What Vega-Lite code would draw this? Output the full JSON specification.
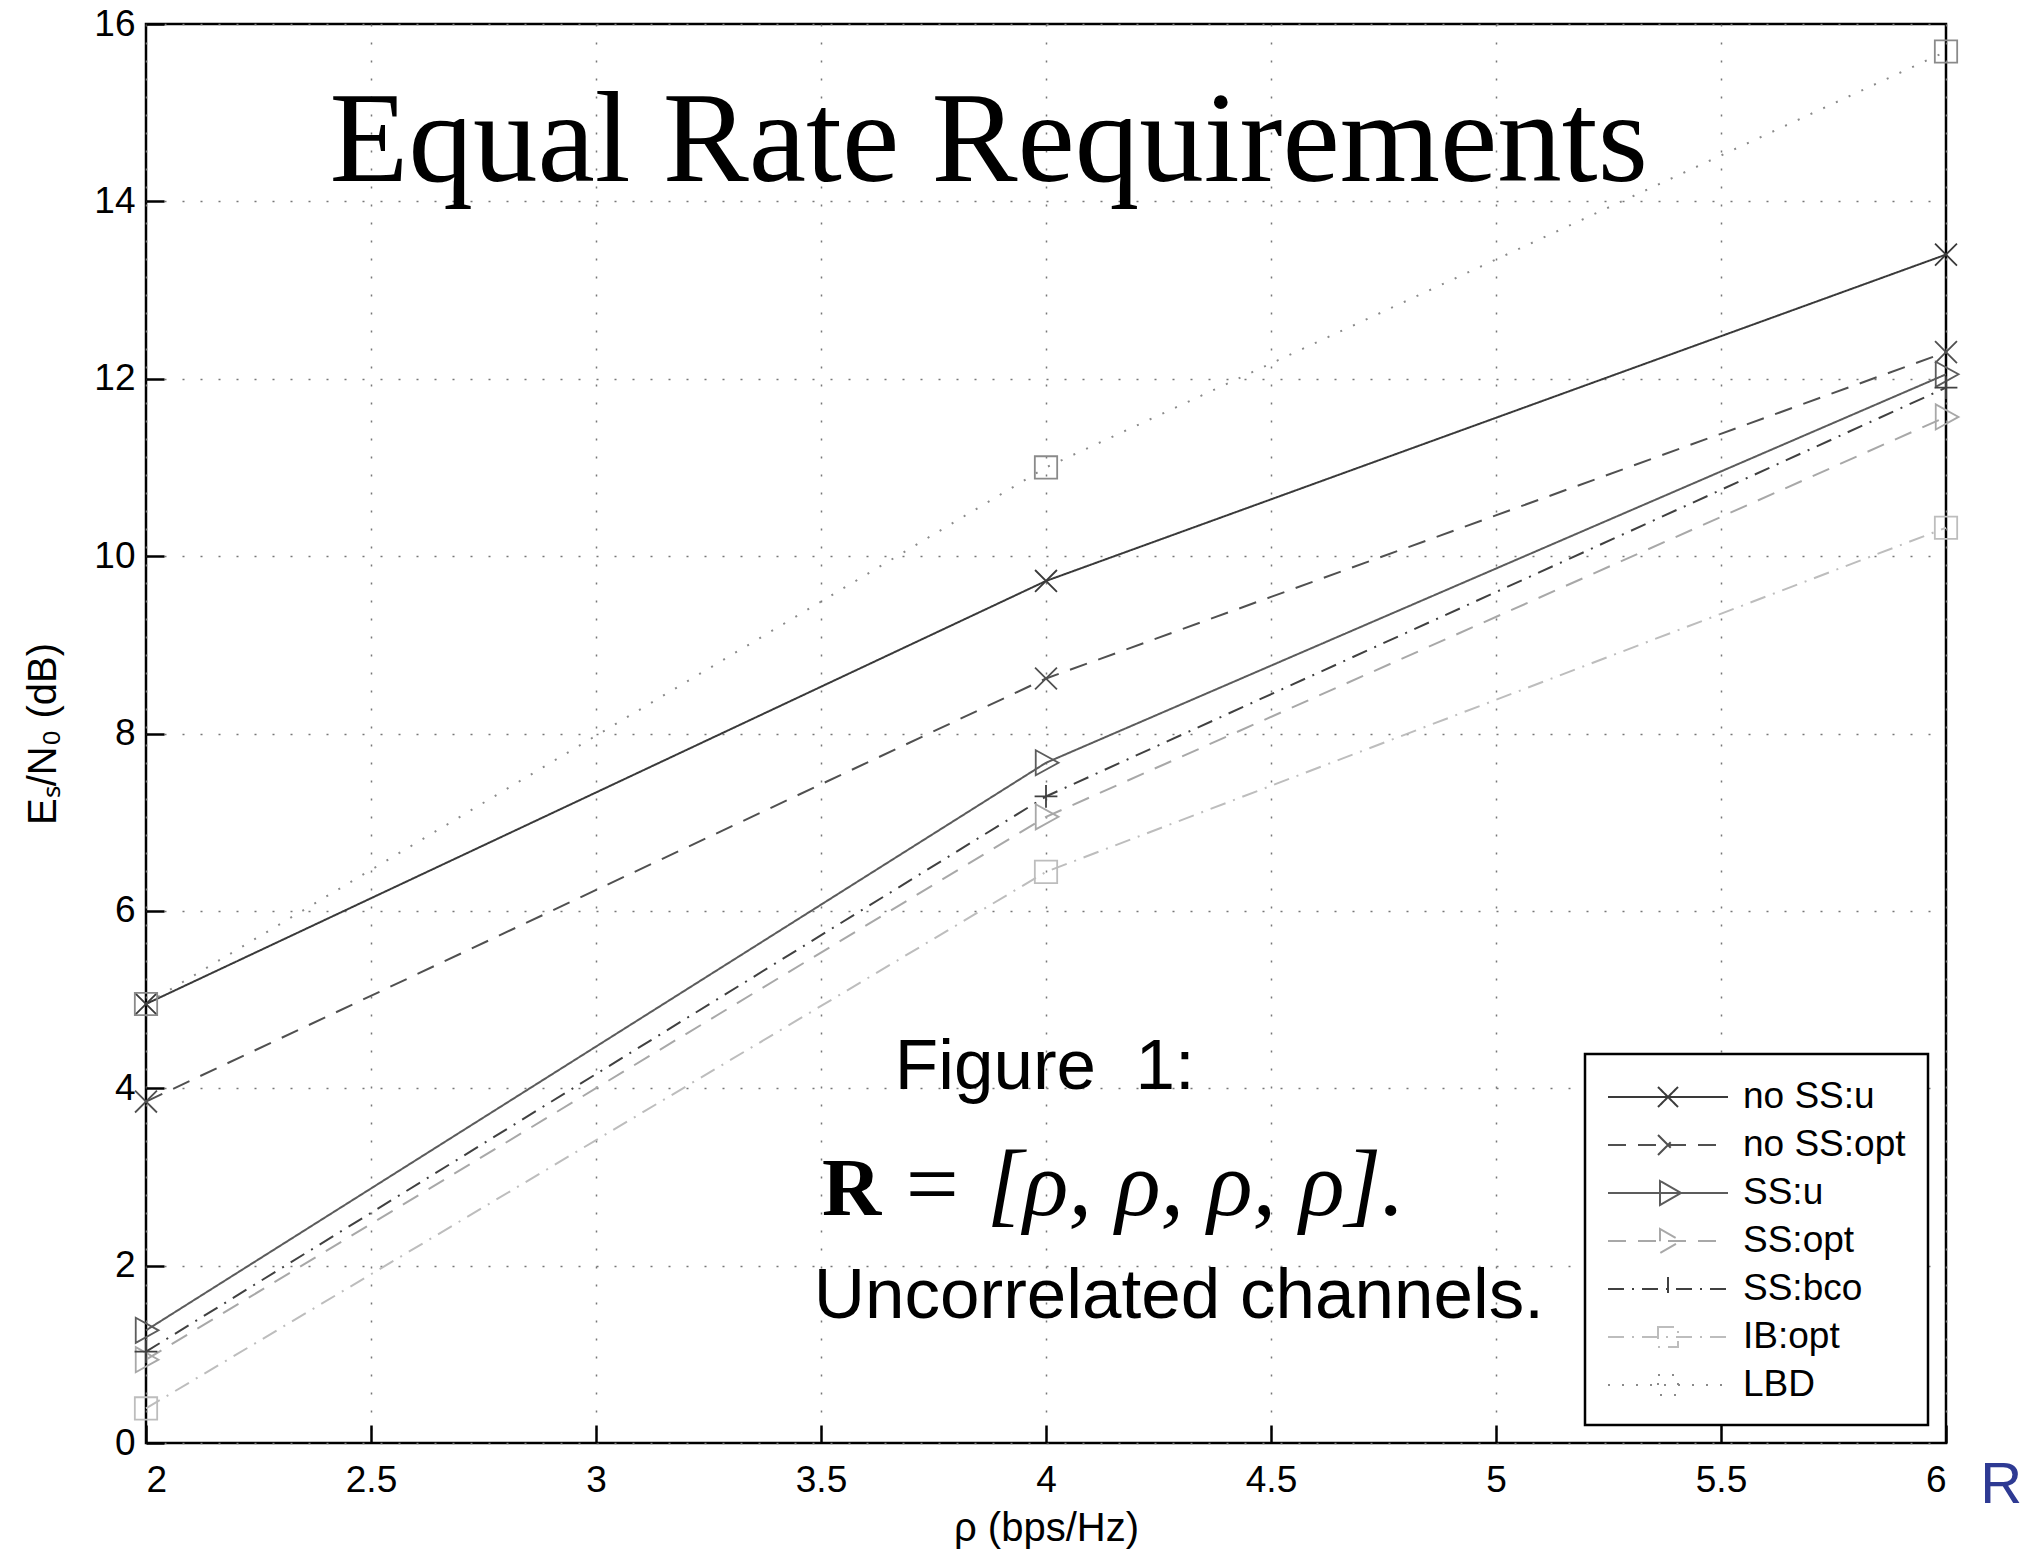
{
  "$schema": "https://vega.github.io/schema/vega-lite/v6.json",
  "width": 1800,
  "height": 1419,
  "autosize": {"type": "none"},
  "padding": {"left": 146, "top": 24, "right": 80, "bottom": 108},
  "background": "white",
  "config": {
    "view": {"stroke": "black", "strokeWidth": 2.5},
    "font": "Liberation Sans",
    "axis": {
      "domain": false,
      "grid": true,
      "gridColor": "#777",
      "gridDash": [2, 16],
      "gridWidth": 1.5,
      "gridOpacity": 1,
      "ticks": true,
      "tickSize": -18,
      "tickWidth": 2.5,
      "tickColor": "black",
      "labelFont": "Liberation Sans",
      "labelFontSize": 37,
      "labelColor": "black",
      "titleFont": "Liberation Sans",
      "titleFontSize": 40,
      "titleFontWeight": "normal",
      "titleColor": "black"
    }
  },
  "datasets": {
    "series": [
      {"scheme": "no SS:u", "rho": 2, "esn0": 4.95},
      {"scheme": "no SS:u", "rho": 4, "esn0": 9.72},
      {"scheme": "no SS:u", "rho": 6, "esn0": 13.4},
      {"scheme": "no SS:opt", "rho": 2, "esn0": 3.85},
      {"scheme": "no SS:opt", "rho": 4, "esn0": 8.62},
      {"scheme": "no SS:opt", "rho": 6, "esn0": 12.3},
      {"scheme": "SS:u", "rho": 2, "esn0": 1.27},
      {"scheme": "SS:u", "rho": 4, "esn0": 7.67},
      {"scheme": "SS:u", "rho": 6, "esn0": 12.05},
      {"scheme": "SS:opt", "rho": 2, "esn0": 0.94},
      {"scheme": "SS:opt", "rho": 4, "esn0": 7.06},
      {"scheme": "SS:opt", "rho": 6, "esn0": 11.57},
      {"scheme": "SS:bco", "rho": 2, "esn0": 1.03},
      {"scheme": "SS:bco", "rho": 4, "esn0": 7.29},
      {"scheme": "SS:bco", "rho": 6, "esn0": 11.9},
      {"scheme": "IB:opt", "rho": 2, "esn0": 0.39},
      {"scheme": "IB:opt", "rho": 4, "esn0": 6.44},
      {"scheme": "IB:opt", "rho": 6, "esn0": 10.32},
      {"scheme": "LBD", "rho": 2, "esn0": 4.95},
      {"scheme": "LBD", "rho": 4, "esn0": 11.0},
      {"scheme": "LBD", "rho": 6, "esn0": 15.69}
    ]
  },
  "layer": [
    {
      "data": {"name": "series"},
      "mark": {"type": "line", "strokeWidth": 2},
      "encoding": {
        "x": {
          "field": "rho", "type": "quantitative",
          "scale": {"domain": [2, 6], "nice": false, "zero": false},
          "axis": {"values": [2, 2.5, 3, 3.5, 4, 4.5, 5, 5.5, 6], "format": "~g", "title": "ρ (bps/Hz)", "labelPadding": 37, "titlePadding": 10}
        },
        "y": {
          "field": "esn0", "type": "quantitative",
          "scale": {"domain": [0, 16], "nice": false},
          "axis": {"values": [0, 2, 4, 6, 8, 10, 12, 14, 16], "format": "~g", "title": "Eₛ/N₀ (dB)", "labelPadding": 29, "titlePadding": 30}
        },
        "color": {
          "field": "scheme", "type": "nominal",
          "scale": {
            "domain": ["no SS:u", "no SS:opt", "SS:u", "SS:opt", "SS:bco", "IB:opt", "LBD"],
            "range": ["#3a3a3a", "#505050", "#5c5c5c", "#a8a8a8", "#404040", "#bdbdbd", "#8a8a8a"]
          },
          "legend": {
            "title": null,
            "orient": "bottom-right",
            "offset": 18,
            "padding": 22,
            "strokeColor": "black",
            "fillColor": "white",
            "labelFont": "Liberation Sans",
            "labelFontSize": 37,
            "labelColor": "black",
            "labelLimit": 500,
            "labelOffset": 94,
            "symbolSize": 1600,
            "symbolStrokeWidth": 2,
            "rowPadding": 9,
            "encode": {
              "legend": {"update": {"strokeWidth": {"value": 2.5}}},
              "symbols": {
                "update": {
                  "fill": {"value": "transparent"},
                  "shape": {"signal": "(datum.value === 'no SS:u' || datum.value === 'no SS:opt') ? 'M-1,0L5,0M1.5,-0.5L2.5,0.5M1.5,0.5L2.5,-0.5' : (datum.value === 'SS:u' || datum.value === 'SS:opt') ? 'M-1,0L5,0M1.6,-0.6L2.65,0L1.6,0.6Z' : datum.value === 'SS:bco' ? 'M-1,0L5,0M2,-0.6L2,0.6' : 'M-1,0L5,0M1.5,-0.5L2.5,-0.5L2.5,0.5L1.5,0.5Z'"}
                }
              }
            }
          }
        },
        "strokeDash": {
          "field": "scheme", "type": "nominal",
          "scale": {
            "domain": ["no SS:u", "no SS:opt", "SS:u", "SS:opt", "SS:bco", "IB:opt", "LBD"],
            "range": [[1, 0], [18, 12], [1, 0], [18, 12], [16, 8, 2, 8], [16, 8, 2, 8], [2, 12]]
          }
        }
      }
    },
    {
      "data": {"name": "series"},
      "transform": [{"filter": "datum.scheme === 'no SS:u' || datum.scheme === 'no SS:opt'"}],
      "mark": {"type": "point", "filled": false, "strokeWidth": 1.8, "opacity": 1, "shape": "M-1,-1L1,1M-1,1L1,-1", "size": 480},
      "encoding": {
        "x": {"field": "rho", "type": "quantitative"},
        "y": {"field": "esn0", "type": "quantitative"},
        "color": {"field": "scheme", "type": "nominal"}
      }
    },
    {
      "data": {"name": "series"},
      "transform": [{"filter": "datum.scheme === 'SS:u' || datum.scheme === 'SS:opt'"}],
      "mark": {"type": "point", "filled": false, "strokeWidth": 1.8, "opacity": 1, "shape": "M-0.9,-1.1L1.1,0L-0.9,1.1Z", "size": 520},
      "encoding": {
        "x": {"field": "rho", "type": "quantitative"},
        "y": {"field": "esn0", "type": "quantitative"},
        "color": {"field": "scheme", "type": "nominal"}
      }
    },
    {
      "data": {"name": "series"},
      "transform": [{"filter": "datum.scheme === 'SS:bco'"}],
      "mark": {"type": "point", "filled": false, "strokeWidth": 1.8, "opacity": 1, "shape": "M-1,0L1,0M0,-1L0,1", "size": 520},
      "encoding": {
        "x": {"field": "rho", "type": "quantitative"},
        "y": {"field": "esn0", "type": "quantitative"},
        "color": {"field": "scheme", "type": "nominal"}
      }
    },
    {
      "data": {"name": "series"},
      "transform": [{"filter": "datum.scheme === 'IB:opt' || datum.scheme === 'LBD'"}],
      "mark": {"type": "point", "filled": false, "strokeWidth": 1.8, "opacity": 1, "shape": "square", "size": 500},
      "encoding": {
        "x": {"field": "rho", "type": "quantitative"},
        "y": {"field": "esn0", "type": "quantitative"},
        "color": {"field": "scheme", "type": "nominal"}
      }
    },
    {
      "data": {"values": [{"x": 2.408, "y": 14.23, "t": "Equal Rate Requirements"}]},
      "mark": {"type": "text", "align": "left", "baseline": "alphabetic", "font": "Liberation Serif", "fontSize": 129, "color": "black"},
      "encoding": {"x": {"field": "x", "type": "quantitative"}, "y": {"field": "y", "type": "quantitative"}, "text": {"field": "t"}}
    },
    {
      "data": {"values": [{"x": 3.664, "y": 3.99, "t": "Figure\u00a0\u00a01:"}, {"x": 3.484, "y": 1.41, "t": "Uncorrelated channels."}]},
      "mark": {"type": "text", "align": "left", "baseline": "alphabetic", "font": "Liberation Sans", "fontSize": 71, "color": "black"},
      "encoding": {"x": {"field": "x", "type": "quantitative"}, "y": {"field": "y", "type": "quantitative"}, "text": {"field": "t"}}
    },
    {
      "data": {"values": [{"x": 3.502, "y": 2.57, "t": "R"}]},
      "mark": {"type": "text", "align": "left", "baseline": "alphabetic", "font": "Liberation Serif", "fontWeight": "bold", "fontSize": 82, "color": "black"},
      "encoding": {"x": {"field": "x", "type": "quantitative"}, "y": {"field": "y", "type": "quantitative"}, "text": {"field": "t"}}
    },
    {
      "data": {"values": [{"x": 3.675, "y": 2.57, "t": "= [ρ, ρ, ρ, ρ]."}]},
      "mark": {"type": "text", "align": "left", "baseline": "alphabetic", "font": "Liberation Serif", "fontStyle": "italic", "fontSize": 94, "color": "black"},
      "encoding": {"x": {"field": "x", "type": "quantitative"}, "y": {"field": "y", "type": "quantitative"}, "text": {"field": "t"}}
    },
    {
      "data": {"values": [{"x": 6.076, "y": -0.68, "t": "R"}]},
      "mark": {"type": "text", "align": "left", "baseline": "alphabetic", "font": "Liberation Sans", "fontSize": 58, "color": "#2e3a93"},
      "encoding": {"x": {"field": "x", "type": "quantitative"}, "y": {"field": "y", "type": "quantitative"}, "text": {"field": "t"}}
    }
  ]
}
